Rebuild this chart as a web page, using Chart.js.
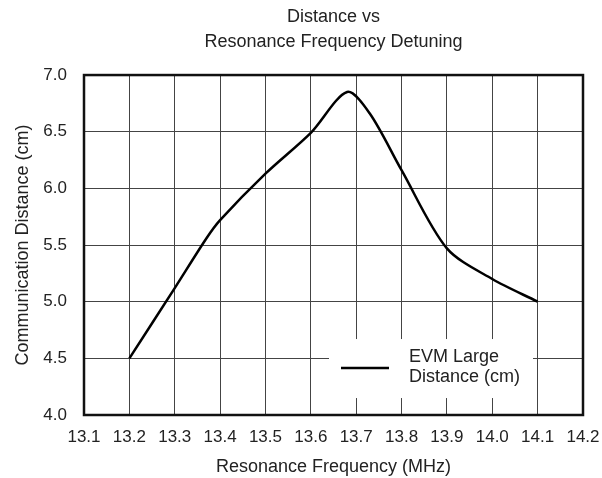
<!DOCTYPE html>
<html>
<head>
<meta charset="utf-8">
<script src="https://cdn.jsdelivr.net/npm/chart.js@4"></script>
<style>
  html, body { margin: 0; padding: 0; background: #ffffff; }
  #wrap { width: 602px; height: 478px; position: relative; }
</style>
</head>
<body>
<div id="wrap"><canvas id="c" width="602" height="478"></canvas></div>
<script>
// ---- data ----
const titleLines = ["Distance vs", "Resonance Frequency Detuning"];
const xAxisTitle = "Resonance Frequency (MHz)";
const yAxisTitle = "Communication Distance (cm)";
const seriesLabel = ["EVM Large", "Distance (cm)"];
const frequency = [13.2, 13.3, 13.37, 13.4, 13.5, 13.6, 13.68, 13.73, 13.8, 13.9, 14.0, 14.1];
const distance  = [4.5, 5.12, 5.56, 5.72, 6.13, 6.49, 6.85, 6.66, 6.16, 5.47, 5.2, 5.0];
const xMin = 13.1, xMax = 14.2, xStep = 0.1;
const yMin = 4.0, yMax = 7.0, yStep = 0.5;

const FONT = "'Liberation Sans', Arial, sans-serif";

const points = frequency.map((f, i) => ({ x: f, y: distance[i] }));

const frameAndLegend = {
  id: 'frameAndLegend',
  afterDatasetsDraw(chart) {
    const ctx = chart.ctx;
    const a = chart.chartArea;
    // legend box
    const lx = a.left + 245;
    const ly = a.top + 264;
    const lw = 204, lh = 59;
    ctx.save();
    ctx.fillStyle = '#ffffff';
    ctx.fillRect(lx, ly, lw, lh);
    ctx.strokeStyle = '#000000';
    ctx.lineWidth = 2.5;
    ctx.beginPath();
    ctx.moveTo(lx + 12, ly + 29);
    ctx.lineTo(lx + 60, ly + 29);
    ctx.stroke();
    ctx.fillStyle = '#222222';
    ctx.font = "18px " + FONT;
    ctx.textBaseline = 'middle';
    ctx.textAlign = 'left';
    ctx.fillText(seriesLabel[0], lx + 80, ly + 18);
    ctx.fillText(seriesLabel[1], lx + 80, ly + 38);
    // frame
    ctx.lineWidth = 2.5;
    ctx.strokeStyle = '#111111';
    ctx.strokeRect(a.left, a.top, a.right - a.left, a.bottom - a.top);
    ctx.restore();
  }
};

new Chart(document.getElementById('c'), {
  type: 'scatter',
  data: {
    datasets: [{
      label: seriesLabel.join(' '),
      data: points,
      showLine: true,
      borderColor: '#000000',
      borderWidth: 2.5,
      pointRadius: 0,
      tension: 0.3,
      fill: false
    }]
  },
  options: {
    responsive: false,
    animation: false,
    layout: { padding: { left: 0, right: 19, top: 0, bottom: 0 } },
    plugins: {
      legend: { display: false },
      tooltip: { enabled: false },
      title: {
        display: true,
        text: titleLines,
        fullSize: false,
        color: '#222222',
        font: { family: FONT, size: 18, weight: 'normal', lineHeight: 1.39 },
        padding: { top: 5, bottom: 20 }
      }
    },
    scales: {
      x: {
        type: 'linear',
        min: xMin, max: xMax,
        afterFit(s) { s.height = 63; s.paddingLeft = 0; s.paddingRight = 0; },
        ticks: {
          stepSize: xStep,
          color: '#222222',
          padding: 12,
          maxRotation: 0,
          autoSkip: false,
          font: { family: FONT, size: 17 },
          callback: v => Number(v).toFixed(1)
        },
        grid: { color: '#444444', lineWidth: 1, drawTicks: false },
        border: { display: false },
        title: {
          display: true,
          text: xAxisTitle,
          color: '#222222',
          font: { family: FONT, size: 18 },
          padding: { top: 0, bottom: 0 }
        }
      },
      y: {
        type: 'linear',
        min: yMin, max: yMax,
        afterFit(s) { s.width = 84; s.paddingTop = 0; s.paddingBottom = 0; },
        ticks: {
          stepSize: yStep,
          color: '#222222',
          padding: 17,
          font: { family: FONT, size: 17 },
          callback: v => Number(v).toFixed(1)
        },
        grid: { color: '#444444', lineWidth: 1, drawTicks: false },
        border: { display: false },
        title: {
          display: true,
          text: yAxisTitle,
          color: '#222222',
          font: { family: FONT, size: 18 },
          padding: { top: 12, bottom: 0 }
        }
      }
    }
  },
  plugins: [frameAndLegend]
});
</script>
</body>
</html>
